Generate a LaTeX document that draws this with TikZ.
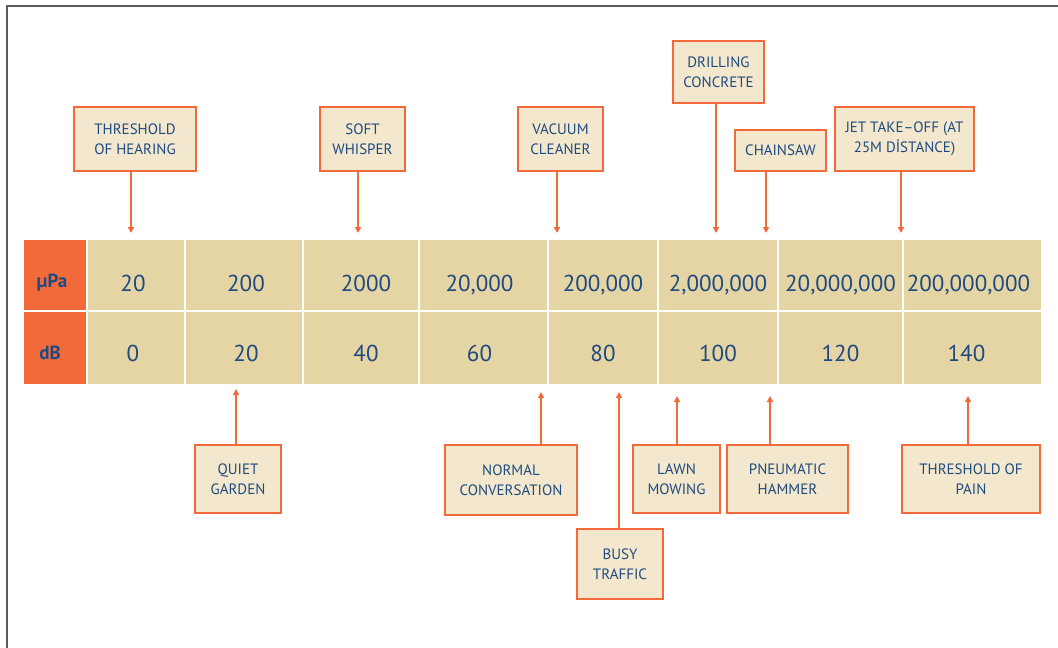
\documentclass[tikz,border=0pt]{standalone}
\usepackage{fontspec}
\setmainfont{PT Sans}
\usetikzlibrary{arrows.meta, positioning}

\definecolor{noiseorange}{HTML}{F2693A}
\definecolor{cellbeige}{HTML}{E5D4A4}
\definecolor{boxbeige}{HTML}{F3E8CD}
\definecolor{inkblue}{HTML}{1E4A80}
\definecolor{framegray}{HTML}{5A5A5A}

\tikzset{
    cell/.style={rectangle, fill=cellbeige, inner sep=0pt, outer sep=0pt, minimum height=#1},
    head/.style={rectangle, fill=noiseorange, inner sep=0pt, outer sep=0pt, minimum width=62pt, minimum height=#1},
    val/.style={text=inkblue, text depth=0pt, font=\fontsize{23}{26}\selectfont},
    unit/.style={text=inkblue, font=\fontsize{19}{22}\selectfont\bfseries},
    source/.style={rectangle, draw=noiseorange, line width=2pt, fill=boxbeige, align=center,
        text=inkblue, font=\fontsize{15}{20}\selectfont, inner sep=2pt},
    pointer/.style={draw=noiseorange, line width=1.6pt, -{Triangle[length=6pt, width=6pt]}}
}

\begin{document}
\begin{tikzpicture}[x=1pt, y=-1pt]
        \useasboundingbox (0,0) rectangle (1058,648);
        \draw[framegray, line width=2.5pt] (7,648) -- (7,6) -- (1058,6);

        % pressure row
        \node[head=70pt, anchor=north west] (hp) at (24,240) {};
        \node[cell=70pt, minimum width=96pt, right=2pt of hp] (p1) {};
        \node[cell=70pt, minimum width=116pt, right=2pt of p1] (p2) {};
        \node[cell=70pt, minimum width=114pt, right=2pt of p2] (p3) {};
        \node[cell=70pt, minimum width=127pt, right=2pt of p3] (p4) {};
        \node[cell=70pt, minimum width=108pt, right=2pt of p4] (p5) {};
        \node[cell=70pt, minimum width=118pt, right=2pt of p5] (p6) {};
        \node[cell=70pt, minimum width=123pt, right=2pt of p6] (p7) {};
        \node[cell=70pt, minimum width=137pt, right=2pt of p7] (p8) {};

        % decibel row
        \node[head=72pt, below=2pt of hp] (hd) {};
        \node[cell=72pt, minimum width=96pt, below=2pt of p1] (d1) {};
        \node[cell=72pt, minimum width=116pt, below=2pt of p2] (d2) {};
        \node[cell=72pt, minimum width=114pt, below=2pt of p3] (d3) {};
        \node[cell=72pt, minimum width=127pt, below=2pt of p4] (d4) {};
        \node[cell=72pt, minimum width=108pt, below=2pt of p5] (d5) {};
        \node[cell=72pt, minimum width=118pt, below=2pt of p6] (d6) {};
        \node[cell=72pt, minimum width=123pt, below=2pt of p7] (d7) {};
        \node[cell=72pt, minimum width=137pt, below=2pt of p8] (d8) {};

        \node[unit] (hpt) at ([xshift=-3pt, yshift=-8pt]hp.center) {µPa};
        \node[unit] (hdt) at ([xshift=-5pt, yshift=-5pt]hd.center) {dB};

        \node[val] (vp1) at ([xshift=-3pt, yshift=-8pt]p1.center) {20};
        \node[val] (vp2) at ([xshift=2pt, yshift=-8pt]p2.center) {200};
        \node[val] (vp3) at ([xshift=5pt, yshift=-8pt]p3.center) {2000};
        \node[val] (vp4) at ([xshift=-4pt, yshift=-8pt]p4.center) {20,000};
        \node[val] (vp5) at ([yshift=-8pt]p5.center) {200,000};
        \node[val] (vp6) at ([yshift=-8pt]p6.center) {2,000,000};
        \node[val] (vp7) at ([yshift=-8pt]p7.center) {20,000,000};
        \node[val] (vp8) at ([xshift=-4pt, yshift=-8pt]p8.center) {200,000,000};

        \node[val] (vd1) at ([xshift=-3pt, yshift=-5pt]d1.center) {0};
        \node[val] (vd2) at ([xshift=2pt, yshift=-5pt]d2.center) {20};
        \node[val] (vd3) at ([xshift=5pt, yshift=-5pt]d3.center) {40};
        \node[val] (vd4) at ([xshift=-4pt, yshift=-5pt]d4.center) {60};
        \node[val] (vd5) at ([yshift=-5pt]d5.center) {80};
        \node[val] (vd6) at ([yshift=-5pt]d6.center) {100};
        \node[val] (vd7) at ([yshift=-5pt]d7.center) {120};
        \node[val] (vd8) at ([xshift=-6pt, yshift=-5pt]d8.center) {140};

        % sources above the scale
        \node[source, minimum width=122pt, minimum height=64pt] (hearing) at (135,139) {THRESHOLD\\OF HEARING};
        \node[source, minimum width=85pt, minimum height=64pt] (whisper) at (362.5,139) {SOFT\\WHISPER};
        \node[source, minimum width=85pt, minimum height=64pt] (vacuum) at (560.5,139) {VACUUM\\CLEANER};
        \node[source, minimum width=91pt, minimum height=62pt] (drilling) at (718.5,72) {DRILLING\\CONCRETE};
        \node[source, minimum width=91pt, minimum height=41pt] (chainsaw) at (780.5,150.5) {CHAINSAW};
        \node[source, minimum width=139pt, minimum height=64pt] (jet) at (904.5,139) {JET TAKE--OFF (AT\\25M DİSTANCE)};

        \coordinate (hearing tip) at (131,233);
        \coordinate (whisper tip) at (358,233);
        \coordinate (vacuum tip) at (557,233);
        \coordinate (drilling tip) at (716,233);
        \coordinate (chainsaw tip) at (766,233);
        \coordinate (jet tip) at (901,233);

        \draw[pointer] (hearing.south -| hearing tip) -- (hearing tip);
        \draw[pointer] (whisper.south -| whisper tip) -- (whisper tip);
        \draw[pointer] (vacuum.south -| vacuum tip) -- (vacuum tip);
        \draw[pointer] (drilling.south -| drilling tip) -- (drilling tip);
        \draw[pointer] (chainsaw.south -| chainsaw tip) -- (chainsaw tip);
        \draw[pointer] (jet.south -| jet tip) -- (jet tip);

        % sources below the scale
        \node[source, minimum width=86pt, minimum height=68pt] (garden) at (238,479) {QUIET\\GARDEN};
        \node[source, minimum width=132pt, minimum height=70pt] (talk) at (511,480) {NORMAL\\CONVERSATION};
        \node[source, minimum width=86pt, minimum height=70pt] (traffic) at (620,564) {BUSY\\TRAFFIC};
        \node[source, minimum width=87pt, minimum height=68pt] (lawn) at (676.5,479) {LAWN\\MOWING};
        \node[source, minimum width=121pt, minimum height=68pt] (hammer) at (787.5,479) {PNEUMATIC\\HAMMER};
        \node[source, minimum width=138pt, minimum height=68pt] (pain) at (971,479) {THRESHOLD OF\\PAIN};

        \coordinate (garden tip) at (236,389);
        \coordinate (talk tip) at (541,392);
        \coordinate (traffic tip) at (619,392);
        \coordinate (lawn tip) at (677,396);
        \coordinate (hammer tip) at (770,396);
        \coordinate (pain tip) at (968,396);

        \draw[pointer] (garden.north -| garden tip) -- (garden tip);
        \draw[pointer] (talk.north -| talk tip) -- (talk tip);
        \draw[pointer] (traffic.north -| traffic tip) -- (traffic tip);
        \draw[pointer] (lawn.north -| lawn tip) -- (lawn tip);
        \draw[pointer] (hammer.north -| hammer tip) -- (hammer tip);
        \draw[pointer] (pain.north -| pain tip) -- (pain tip);
\end{tikzpicture}
\end{document}
